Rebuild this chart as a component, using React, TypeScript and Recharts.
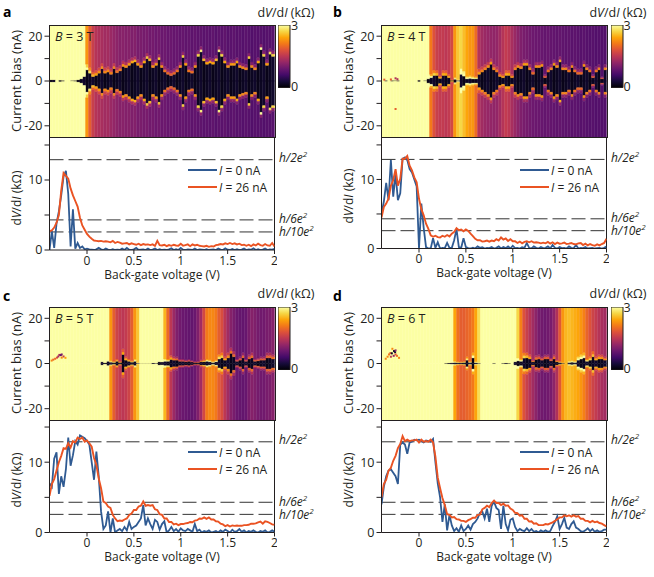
import React from 'react';
import { BarChart, Bar, Cell, XAxis, YAxis, ComposedChart, Line, ReferenceLine, Legend, ScatterChart, Scatter } from 'recharts';

const FONT = '"Open Sans", "Noto Sans", sans-serif';
const INK = '#231f20';
const BLUE = '#2f5a92';
const ORANGE = '#ea5323';

const gateTicks = [0, 0.5, 1, 1.5, 2];
const biasTicks = [-20, -10, 0, 10, 20];
const resTicks = [0, 5, 10, 15];
const quantumLevels = [12.9, 4.3, 2.58];
const infernoStops = ['#000004', '#160b39', '#420a68', '#6a176e', '#932667', '#bc3754', '#dd513a', '#f37819', '#fca50a', '#f6d746', '#fcffa4'];

const bgA = [3,3,3,3,3,3,3,3,3,3, 3,3,2.3,1.9,1.6,1.45,1.4,1.35,1.3,1.32, 1.25,1.2,1.15,1.1,1.12,1.08,1.1,1.05,1.08,1.0, 1.02,.98,1,.95,.97,.92,.95,.9,.92,.88, .9,.86,.88,.84,.86,.82,.85,.8,.84,.8, .82,.78,.8,.78,.82,.76,.8,.78,.82,.76, .78,.8,.76,.78,.74,.78,.76,.72,.76,.74, .76,.72,.75,.74,.76];
const gapA = [.6,.6,0,.4,.3,0,0,.2,.3,.6, 1,2,5,3.5,2,2.5,3.5,5.5,3.5,4, 3,5.5,3.7,4.5,6.5,6,7,8,8.5,7, 6,8,10,9,6,7,9.5,6,4,3, 2.4,3,4,6,10.5,7,4,3.5,6,11, 13,9,7.5,8,7.5,9,13,11,8,6, 7,7,8,6,5.5,5,10,6,5,8, 14,11,7,12,11];
const bgB = [3,3,3,3,3,3,3,3,3,3, 3,3,3,3,3,3,2.1,1.8,1.6,1.55, 1.55,1.5,1.55,1.7,2.3,2.6,2.7,2.55,2.4,2.3, 2.3,2,1.45,1.3,1.25,1.22,1.2,1.18,1.2,1.3, 1.45,1.55,1.5,1.35,1.25,1.15,1.05,1,.98,.95, .92,.9,.9,.88,.85,.88,.85,.84,.82,.85, .82,.8,.82,.78,.8,.78,.76,.78,.75,.74, .76,.72,.74,.72,.72];
const gapB = [0,.3,0,.3,.2,.3,0,0,0,0, 0,0,.4,0,.2,1,1.5,2.5,2.5,1.2, 2.5,2.5,1.5,.3,.8,.3,3,2.2,1,1.2, 1,1,3,4,5,6,7.5,5,4,2, 1.5,2.5,2.5,1.5,5,6,5.5,7,7,5, 3,6,6,6.5,1.5,4,5,7,6,8.5, 5,5,4,6,4,3,3,6.5,5,4, 1.5,4,5,1,5];
const bgC = [3,3,3,3,3,3,3,3,3,3, 3,3,3,3,3,3,3,3,3,3, 2.3,1.9,1.65,1.55,1.5,1.55,1.65,1.9,2.3,2.6, 3,3,3,3,3,3,3,3,2.5,2,1.5,1.25,1.05,.95,.9,.88,.85,.85,.9,1.05, 1.3,1.7,2.1,2.2,2.2,2.1,1.9,1.75,1.5,1.3, 1.1,1,.9,.86,.85,.88,1,1.1,1.05,.98, .95,.95,1,1.02,1.1];
const gapC = [0,0,0,0,0,0,0,0,0,0, 0,0,0,0,0,0,0,.8,.4,1, .6,.5,1,.5,4,1.5,1,.6,1,.2, .1,.1,.1,.1,.3,.2,.8,.7,1,1, 1.8,1.5,1.5,1,1,.8,1,.7,.5,.5, .8,.8,1,.8,.5,.8,2,2.5,1.5,2.5, 4.5,3,1,1.5,2.5,1,2,2.5,1,1.2, 1.5,1.5,2.5,2.5,2];
const bgD = [3,3,3,3,3,3,3,3,3,3, 3,3,3,3,3,3,3,3,3,3, 3,3,3,3,2.4,2.05,1.9,1.9,1.95,2, 2.1,2.4,2.75,3,3,3,3,3,3,3, 3,3,3,3,3,2.7,2.15,1.8,1.6,1.45, 1.3,1.15,1,.95,.92,.95,1,1.15,1.4,1.85, 2.3,2.5,2.55,2.5,2.45,2.4,2.3,2.15,1.95,1.8, 1.65,1.55,1.45,1.35,1.3];
const gapD = [0,0,0,0,0,0,0,0,0,0, 0,0,0,0,0,0,0,0,0,0, 0,.2,.3,.4,.5,.4,.4,.5,1.5,.5, 2.5,.4,.2,0,0,0,0,.2,0,0, .2,.3,.2,0,.8,1.2,1,2.4,2.5,2, .8,1.8,2,1.5,2,2,1.2,2,.8,.5, .2,0,.5,.6,.5,1.5,2,2.5,1,1.5, 3,1.5,2,2,1.5];

const specksB = [{ x: -0.37, y: 0.6, v: 1.9 }, { x: -0.3, y: 0.7, v: 1.9 }, { x: -0.25, y: 1.2, v: 1.4 }, { x: -0.23, y: 0.8, v: 1.4 }, { x: -0.25, y: -12.5, v: 1.9 }];
const specksC = [{ x: -0.377, y: 1.3, v: 2.2 }, { x: -0.36, y: 1.7, v: 2 }, { x: -0.34, y: 2.1, v: 2 }, { x: -0.32, y: 2.6, v: 1.8 }, { x: -0.306, y: 3.1, v: 1.3 }, { x: -0.295, y: 3.8, v: 1.4 }, { x: -0.28, y: 3.7, v: 0.8 }, { x: -0.27, y: 4, v: 1 }, { x: -0.25, y: 3.1, v: 1.6 }, { x: -0.27, y: 2.6, v: 2.2 }, { x: -0.23, y: 2.5, v: 2.4 }];
const specksD = [{ x: -0.355, y: 2.1, v: 2.2 }, { x: -0.335, y: 3, v: 2.2 }, { x: -0.32, y: 4, v: 2.1 }, { x: -0.305, y: 4.6, v: 1.9 }, { x: -0.284, y: 6.5, v: 2.2 }, { x: -0.266, y: 5.5, v: 0.2 }, { x: -0.255, y: 5, v: 0.3 }, { x: -0.25, y: 4, v: 1.8 }, { x: -0.213, y: 2.5, v: 2.2 }, { x: -0.29, y: 4.5, v: 0.2 }, { x: -0.3, y: 3, v: 1.5 }, { x: -0.25, y: 5.8, v: 1.2 }, { x: -0.27, y: 3.4, v: 1.2 }, { x: -0.235, y: 3.4, v: 2 }];

const zeroA = [0,2.7,.3,3.8,5.5,7.8,10.5,11.3,8,.5, 5.8,.2,1,.3,.5,.1,.2,.1,.05,0, .1,.3,.1,0,.2,.05,0,.1,0,.05, 0,.2,0,.3,.05,0,.1,.3,0,.05, .1,0,.2,0,.05,.2,0,.1,0,.05, 0,.1,.25,0,.1,0,.3,.05,0,.1, .05,0,.2,0,.1,.05,0,.1,0,.05, .1,0,.2,.05,0,.25,.05,0,.15,0, .1,0,.05,.2,0,.1,.05,.25,0,.1, 0,.05,.2,0,.1,.05,.15];
const biasA = [2.7,2.8,3.2,3.9,5.0,8.5,11.0,10.6,10.2,8.8, 7.8,7.0,6.2,4.6,3.5,2.9,2.3,1.9,1.6,1.35, 1.3,1.25,1.3,1.2,1.25,1.2,1.1,1.3,1.0,1.15, 1.05,.9,.95,1.0,.8,.95,.85,.75,.9,.7, .85,.75,.8,.7,.8,.6,1.3,.7,.65,.75, .55,.7,.6,.75,.65,.6,.9,.6,.7,.8, .55,.8,.65,.75,.6,.55,.5,.6,.45,.55, .5,.7,.75,.85,.8,.95,.85,1.0,.85,.95, .8,.9,.7,.75,.6,.75,.55,.8,.65,.9, .7,.6,.85,.65,.6,1.0,.5];
const zeroB = [5,6.8,9.5,7,12.8,7.5,10.8,7,8,13, 13.2,12.8,11.5,11,10,9,0,6.5,3,.2, 0,0,1.5,.1,.9,0,.1,.05,.8,.1, .1,1.2,2.8,.2,.1,1.5,.2,.05,0,.1, 0,.3,.1,.2,0,.1,.05,.2,0,.1, .3,0,.2,.05,.3,0,.4,.05,.1,0, .2,.1,.8,.1,0,.3,.1,0,.2,.05, .1,.3,0,.5,.1,0,.2,.05,.1,0, .3,.1,.05,.5,0,.1,.05,.2,0,.05, .1,0,.05,.1,0,.1,.3];
const biasB = [4.5,6,6.5,7.2,9.1,9.9,11.5,9.1,10.1,13, 13,13.4,12,11.3,10.3,9.6,7.2,5.7,4.8,3.6, 2.85,1.9,1.7,1.85,1.65,1.6,1.85,1.7,1.95,1.75, 2.15,2.4,2.95,2.65,2.75,2.5,2.75,2.55,2.15,1.8, 1.4,1.2,1.2,1,1.05,1.15,1,1.15,1.05,1.35, 1.15,1.6,1.3,1.45,1.1,1.35,1.05,1.05,.8,1, .75,.95,1.05,.9,1.05,.85,.9,.85,.75,.85, .75,.95,.7,.9,.65,.85,.7,.75,.85,.65, .7,.8,.65,.6,.75,.8,.5,.7,.45,.65, .5,.4,.6,.45,.65,.8,1.4];
const zeroC = [7,6.5,10.5,11.4,5.5,8,6.5,9,13.5,9.5, 11,13,12.5,13.8,13.6,13.4,13,12.5,10,7.5, 11.5,8,3,.5,1,3,0,2,0,.3, .5,.2,.8,.3,1.5,.5,.8,1,1.5,2, 3.9,1,2,1.2,.5,1.8,1.5,.4,1.2,1.6, 0,.3,.8,.2,.5,.1,.6,.3,.2,.5, .3,.1,1.2,.2,.4,0,.2,.1,.3,0, .1,.2,0,.3,.1,.4,.2,0,.4,.1, .2,.5,.1,.3,0,.2,.1,.3,.1,0, .2,.1,.3,0,.1,.3,.1];
const biasC = [5.2,6.9,7.6,8.8,10,10.9,12,11.9,12.7,12.1, 13,12.8,13.5,13.3,13.5,12.9,13.1,12.7,12.2,10.6, 9.6,7.7,6.3,4.4,4.2,3.7,3.5,2.5,2,1.6, 1.7,1.65,1.85,2,2.5,2.7,3.2,3.2,3.7,3.8, 4.4,3.8,3.9,3.8,3.9,3.3,3.2,2.6,2.5,2, 2,1.5,1.5,1.15,1.25,1.05,1.2,1.2,1.3,1.35, 1.5,1.45,1.7,1.75,2,1.95,2.15,1.95,2.15,1.85, 1.85,1.6,1.55,1.25,1.15,.9,1.05,.85,1,.95, 1,.95,.95,1.05,1.05,1.1,1.25,1.25,1.3,1.45, 1.55,1.25,1.6,1.5,1.35,1.15,1.1];
const zeroD = [4,6.5,8,8.8,9,8.5,8,6.9,12.5,12.8, 12.5,11.2,12.8,12.9,13.2,13.1,13.2,13,12.8,13.1, 13,12.9,13.3,10,7,5,1.5,4,.3,2.5, 1,.2,.6,.1,1,.2,.5,1,.4,1.2, 1.5,2,2.8,3,2,3.4,1.5,3.8,4.4,3.5, 3.2,.5,3.8,1.2,.3,1.8,2,.8,.2,.5, .3,.2,.6,.2,.5,.1,.2,0,.3,.1, .3,.1,.2,.9,1.5,2.3,.5,1.2,2.1,.7, .5,1.2,1.6,.7,.5,.2,.1,.3,.6,.2, .5,.1,.3,.1,.2,.4,.4];
const biasD = [5,6.9,7.5,8.8,9.2,10.2,10.9,12,12.6,13.7, 13,13.2,13,13.1,13.1,13.2,12.8,13.2,12.9,13, 12.9,13.2,12.8,10.8,7.8,6.3,4.9,3.9,2.6,2.5, 2.15,2.2,1.9,1.85,1.65,1.65,1.5,1.75,1.9,2.1, 2.1,2.5,2.55,3.3,3.5,3.8,3.6,4.2,4.55,4.2, 4.2,3.9,4.1,3.8,3.85,3.4,3.2,2.8,2.75,2.4, 2.45,1.95,1.95,1.55,1.6,1.25,1.3,1.05,1.05,1.05, 1.2,1.15,1.3,1.45,1.65,1.9,2.15,2.15,2.45,2.3, 2.45,2.25,2.45,2.25,2.35,1.95,1.95,1.65,1.65,1.45, 1.65,1.45,1.55,1.35,1.25,1.05,.85];

const inferno = (v: number) => {
  const t = Math.max(0, Math.min(1, v / 3)) * 10;
  const i = Math.min(9, Math.floor(t));
  const f = t - i;
  const rgb = (h: string) => [1, 3, 5].map((k) => parseInt(h.slice(k, k + 2), 16));
  const a = rgb(infernoStops[i]);
  const b = rgb(infernoStops[i + 1]);
  return `rgb(${a.map((c, k) => Math.round(c + (b[k] - c) * f)).join(',')})`;
};

const W = 225;
const LEFT = 49.5;
const heatKeys = ['dp', 'ep', 'hp', 'bp', 'dn', 'en', 'hn', 'bn'];

const heatRows = (bg: number[], gap: number[]) =>
  bg.map((b, i) => {
    const g = gap[i];
    const e = Math.min(1.1, g * 0.5);
    const h = Math.min(1.4, g * 0.5);
    const r = 25 - g - e - h;
    return { i, b, g, dp: g, ep: e, hp: h, bp: r, dn: -g, en: -e, hn: -h, bn: -r };
  });

const heatValue = (key: string, row: any) => {
  const k = key[0];
  if (k === 'd') return 0.12 + (row.i % 3) * 0.05;
  if (k === 'e') return Math.min(3, Math.max(row.b + 0.9, 1.7 + row.g * 0.09));
  if (k === 'h') return Math.min(3, row.b + 0.35);
  return row.b;
};

const Txt = ({ x, y, size = 12, bold, vertical, anchor = 'middle', color = INK, children }: any) => (
  <div
    style={{
      position: 'absolute', left: x, top: y, fontFamily: FONT, fontSize: size, fontWeight: bold ? 700 : 400, color, whiteSpace: 'nowrap', lineHeight: 1,
      transform: `translate(${anchor === 'middle' ? '-50%' : anchor === 'end' ? '-100%' : '0'},-50%)${vertical ? ' rotate(-90deg)' : ''}`,
    }}
  >
    {children}
  </div>
);

const Q = ({ n }: { n: number }) => (
  <span style={{ fontStyle: 'italic' }}>h/{n}e<sup style={{ fontSize: 8, lineHeight: 0 }}>2</sup></span>
);

const DVDI = () => (
  <span>d<i>V</i>/d<i>I</i> (kΩ)</span>
);

const SpeckShape = (p: any) => <rect x={p.cx - 1} y={p.cy - 1} width={2} height={2} fill={inferno(p.v)} />;

const Heat = ({ x, top, height, bg, gap, specks }: any) => {
  const rows = heatRows(bg, gap);
  return (
    <div style={{ position: 'absolute', left: x, top }}>
      <BarChart width={LEFT + W + 2} height={height} data={rows} stackOffset="sign" barCategoryGap={0} barGap={0} margin={{ top: 0, right: 2, bottom: 0, left: 0 }}>
        <XAxis dataKey="i" hide />
        <YAxis width={LEFT} domain={[-25, 25]} ticks={biasTicks} interval={0} allowDataOverflow stroke={INK} tickSize={5} tickMargin={2}
          tick={{ fontFamily: FONT, fontSize: 12.5, fill: INK }} tickFormatter={(v: number) => (Math.abs(v) === 10 ? '' : String(v))} />
        {heatKeys.map((k) => (
          <Bar key={k} dataKey={k} stackId="s" isAnimationActive={false}>
            {rows.map((r) => {
              const c = inferno(heatValue(k, r));
              return <Cell key={r.i} fill={c} stroke={c} strokeWidth={0.4} />;
            })}
          </Bar>
        ))}
      </BarChart>
      {specks && (
        <div style={{ position: 'absolute', left: 0, top: 0 }}>
          <ScatterChart width={LEFT + W + 2} height={height} margin={{ top: 0, right: 2, bottom: 0, left: LEFT }}>
            <XAxis type="number" dataKey="x" domain={[-0.4, 2]} hide />
            <YAxis type="number" dataKey="y" domain={[-25, 25]} hide />
            <Scatter data={specks} shape={SpeckShape} isAnimationActive={false} />
          </ScatterChart>
        </div>
      )}
      <div style={{ position: 'absolute', left: LEFT - 0.5, top: 0, width: W, height: height - 1, border: `1px solid ${INK}`, pointerEvents: 'none' }} />
    </div>
  );
};

const legendContent = () => (
  <div style={{ position: 'absolute', left: 0, top: 0, width: 120, fontFamily: FONT, fontSize: 12, color: INK }}>
    {[['0', BLUE], ['26', ORANGE]].map(([n, c]) => (
      <div key={n} style={{ display: 'flex', alignItems: 'center', height: 17, whiteSpace: 'nowrap' }}>
        <span style={{ display: 'inline-block', width: 29, height: 2, background: c, marginRight: 2 }} />
        <span><i>I</i> = {n} nA</span>
      </div>
    ))}
  </div>
);

const Trace = ({ x, top, height, xHeight, zero, bias, legendTop }: any) => {
  const rows = zero.map((z: number, i: number) => ({ v: -0.4 + (i * 2.4) / (zero.length - 1), z, b: bias[i] }));
  return (
    <div style={{ position: 'absolute', left: x, top }}>
      <ComposedChart width={LEFT + W + 2} height={height + xHeight} data={rows} margin={{ top: 0, right: 2, bottom: 0, left: 0 }}>
        <XAxis type="number" dataKey="v" domain={[-0.4, 2]} ticks={gateTicks} interval={0} allowDataOverflow height={xHeight} stroke={INK} tickSize={4} tickMargin={2}
          tick={{ fontFamily: FONT, fontSize: 12, fill: INK }} />
        <YAxis width={LEFT} domain={[0, 16]} ticks={resTicks} interval={0} allowDataOverflow stroke={INK} tickSize={5} tickMargin={2}
          tick={{ fontFamily: FONT, fontSize: 12.5, fill: INK }} tickFormatter={(v: number) => (v === 0 || v === 10 ? String(v) : '')} />
        <ReferenceLine x={2} stroke={INK} />
        {quantumLevels.map((q) => <ReferenceLine key={q} y={q} stroke="#333" strokeDasharray="14 5" />)}
        <Line dataKey="z" stroke={BLUE} strokeWidth={1.8} dot={false} isAnimationActive={false} />
        <Line dataKey="b" stroke={ORANGE} strokeWidth={1.9} dot={false} isAnimationActive={false} />
        <Legend content={legendContent} verticalAlign="top" wrapperStyle={{ position: 'absolute', left: 188, top: legendTop, bottom: 'auto', width: 0, height: 0 }} />
      </ComposedChart>
    </div>
  );
};

const ColorBar = ({ x, top, height, id }: any) => (
  <div style={{ position: 'absolute', left: x, top }}>
    <BarChart width={40} height={height} data={[{ c: 'bar', v: 3 }]} barCategoryGap={0} margin={{ top: 0, right: 28, bottom: 0, left: 0 }}>
      <defs>
        <linearGradient id={id} x1="0" y1="1" x2="0" y2="0">
          {infernoStops.map((c, i) => <stop key={i} offset={`${i * 10}%`} stopColor={c} />)}
        </linearGradient>
      </defs>
      <XAxis dataKey="c" hide />
      <YAxis domain={[0, 3]} hide />
      <Bar dataKey="v" fill={`url(#${id})`} stroke={INK} strokeWidth={1} isAnimationActive={false} />
    </BarChart>
  </div>
);

const Panel = ({ tag, B, px, tagX, tagY, heatTop, heatH, barTop, barH, barX, bg, gap, specks, traceTop, traceH, xH, zero, bias, zeroY }: any) => {
  const y0 = zeroY;
  const k = traceH / 16;
  const heatMid = heatTop + heatH / 2;
  return (
    <>
      <Txt x={tagX} y={tagY} size={14} bold anchor="start" color="#000">{tag}</Txt>
      <Heat x={px} top={heatTop} height={heatH} bg={bg} gap={gap} specks={specks} />
      <Trace x={px} top={traceTop} height={traceH} xHeight={xH} zero={zero} bias={bias} legendTop={24} />
      <ColorBar x={barX} top={barTop} height={barH} id={`grad${tag}`} />
      <Txt x={px + 286} y={barTop - 12.5} size={12.5}><DVDI /></Txt>
      <Txt x={barX + 13} y={barTop + 1} size={12.5} anchor="start">3</Txt>
      <Txt x={barX + 13} y={barTop + barH - 1} size={12.5} anchor="start">0</Txt>
      <Txt x={px + 55} y={heatTop + 12} size={12.5} anchor="start"><i>B</i> = {B} T</Txt>
      <Txt x={px + 16} y={heatMid} size={13} vertical>Current bias (nA)</Txt>
      <Txt x={px + 17} y={y0 - 52} size={12} vertical><DVDI /></Txt>
      <Txt x={px + 162} y={y0 + 25} size={12}>Back-gate voltage (V)</Txt>
      <Txt x={px + 279} y={y0 - 12.9 * k - 1} size={12} anchor="start"><Q n={2} /></Txt>
      <Txt x={px + 279} y={y0 - 4.3 * k} size={12} anchor="start"><Q n={6} /></Txt>
      <Txt x={px + 279} y={y0 - 2.58 * k + 1} size={12} anchor="start"><Q n={10} /></Txt>
    </>
  );
};

export default function App() {
  return (
    <div style={{ position: 'absolute', left: 0, top: 0, width: 654, height: 577, background: '#fff', overflow: 'hidden' }}>
      <Panel tag="a" B={3} px={0} tagX={3} tagY={12} heatTop={25} heatH={112} barTop={25} barH={62.5} barX={278} bg={bgA} gap={gapA} traceTop={137.5} traceH={112} xH={30} zeroY={249.5} zero={zeroA} bias={biasA} />
      <Panel tag="b" B={4} px={332} tagX={333} tagY={12} heatTop={25} heatH={112} barTop={25} barH={62.5} barX={610.5} bg={bgB} gap={gapB} specks={specksB} traceTop={137.5} traceH={110.5} xH={30} zeroY={248} zero={zeroB} bias={biasB} />
      <Panel tag="c" B={5} px={0} tagX={3} tagY={296} heatTop={306.5} heatH={113} barTop={306.5} barH={63} barX={278} bg={bgC} gap={gapC} specks={specksC} traceTop={419.5} traceH={112.5} xH={30} zeroY={532} zero={zeroC} bias={biasC} />
      <Panel tag="d" B={6} px={332} tagX={333} tagY={296} heatTop={306.5} heatH={113} barTop={306.5} barH={63} barX={610.5} bg={bgD} gap={gapD} specks={specksD} traceTop={419.5} traceH={112.5} xH={30} zeroY={532} zero={zeroD} bias={biasD} />
    </div>
  );
}
